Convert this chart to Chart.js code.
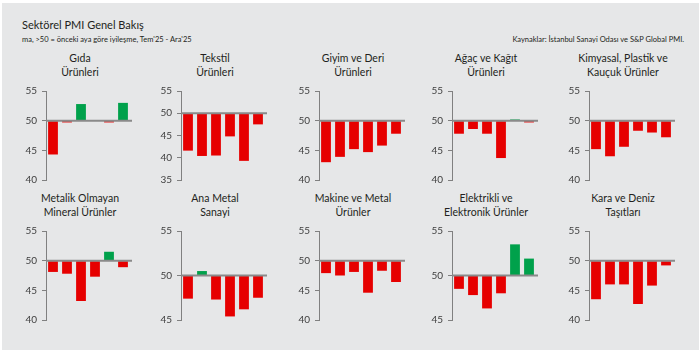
<!DOCTYPE html>
<html>
<head>
<meta charset="utf-8">
<script src="https://cdn.jsdelivr.net/npm/chart.js@4"></script>
<style>
  body { margin: 0; background: #fff; width: 699px; height: 353px; overflow: hidden; }
  #frame { position: absolute; left: 2px; top: 3px; width: 697px; height: 347px; background: #e6e7e8; }
  .txt { position: absolute; font-family: Lato, sans-serif; color: #231f20; white-space: nowrap; }
  .ptitle { font-size: 10.5px; line-height: 13.5px; text-align: center; width: 140px; }
  canvas { position: absolute; }
</style>
</head>
<body>
<div id="frame"></div>
<div class="txt" style="left:22px; top:18px; font-size:11px;">Sektörel PMI Genel Bakış</div>
<div class="txt" style="left:22px; top:35px; font-size:7.5px;">ma, &gt;50 = önceki aya göre iyileşme, Tem'25 - Ara'25</div>
<div class="txt" style="right:15px; top:35px; font-size:7.5px;">Kaynaklar: İstanbul Sanayi Odası ve S&amp;P Global PMI.</div>

<script>
// months Tem'25 - Ara'25
const months = ["Tem'25", "Ağu'25", "Eyl'25", "Eki'25", "Kas'25", "Ara'25"];

// PMI values
const gida = [44.3, 49.7, 52.8, 50.1, 49.7, 53.0];
const tekstil = [41.6, 40.4, 40.5, 44.8, 39.3, 47.5];
const giyim = [43.0, 43.9, 45.2, 44.7, 45.8, 47.8];
const agac = [47.8, 48.6, 47.8, 43.7, 50.2, 49.7];
const kimya = [45.2, 44.0, 45.6, 48.3, 48.0, 47.2];
const metalikOlmayan = [48.1, 47.8, 43.2, 47.3, 51.5, 48.9];
const anaMetal = [47.4, 50.5, 47.3, 45.4, 46.2, 47.5];
const makine = [47.9, 47.5, 48.1, 44.6, 48.3, 46.4];
const elektrik = [48.5, 47.8, 46.3, 48.0, 53.5, 51.9];
const kara = [43.5, 46.0, 46.0, 42.7, 45.8, 49.2];

const titles = [
    ['Gıda', 'Ürünleri'], ['Tekstil', 'Ürünleri'], ['Giyim ve Deri', 'Ürünleri'],
    ['Ağaç ve Kağıt', 'Ürünleri'], ['Kimyasal, Plastik ve', 'Kauçuk Ürünler'],
    ['Metalik Olmayan', 'Mineral Ürünler'], ['Ana Metal', 'Sanayi'], ['Makine ve Metal', 'Ürünler'],
    ['Elektrikli ve', 'Elektronik Ürünler'], ['Kara ve Deniz', 'Taşıtları']
];
const series = [gida, tekstil, giyim, agac, kimya, metalikOlmayan, anaMetal, makine, elektrik, kara];
const yMin = [40, 35, 40, 40, 40, 40, 45, 40, 45, 40];
const yMax = 55;

const RED = '#e60000';
const GREEN = '#00a14b';

// layout of the grid
const axisX = [46, 181, 319, 452, 589];
const plotTop = [88, 228];
const plotH = 95;
const plotW = 84;

// line at 50 drawn over the bars
const baseline = {
    id: 'baseline',
    afterDatasetsDraw(chart) {
        const y = chart.scales.y.getPixelForValue(50);
        const ctx = chart.ctx;
        ctx.save();
        ctx.strokeStyle = '#8a8a8a';
        ctx.lineWidth = 2;
        ctx.beginPath();
        ctx.moveTo(chart.chartArea.left, y);
        ctx.lineTo(chart.chartArea.right + 2, y);
        ctx.stroke();
        ctx.restore();
    }
};

series.forEach((vals, i) => {
    const col = i % 5, row = Math.floor(i / 5);
    const left = axisX[col] - 40;
    const top = plotTop[row] - 8;

    const t = document.createElement('div');
    t.className = 'txt ptitle';
    t.style.left = (axisX[col] + 34 - 70) + 'px';
    t.style.top = (plotTop[row] - 36) + 'px';
    t.innerHTML = titles[i].join('<br>');
    document.body.appendChild(t);

    const cv = document.createElement('canvas');
    cv.width = 40 + plotW + 6;
    cv.height = plotH + 16;
    cv.style.left = left + 'px';
    cv.style.top = top + 'px';
    document.body.appendChild(cv);

    new Chart(cv.getContext('2d'), {
        type: 'bar',
        data: {
            labels: months,
            datasets: [{
                data: vals,
                base: 50,
                backgroundColor: vals.map(v => v >= 50 ? GREEN : RED),
                barPercentage: 0.7,
                categoryPercentage: 1.0
            }]
        },
        options: {
            responsive: false,
            animation: false,
            layout: { padding: { top: 8, bottom: 8, left: 0, right: 6 } },
            plugins: { legend: { display: false }, tooltip: { enabled: false } },
            scales: {
                x: { display: false },
                y: {
                    min: yMin[i],
                    max: yMax,
                    afterFit: s => { s.width = 40; },
                    ticks: {
                        stepSize: 5,
                        padding: 5,
                        color: '#404040',
                        font: { family: 'Lato', size: 10 }
                    },
                    grid: {
                        drawOnChartArea: false,
                        drawTicks: true,
                        tickLength: 4,
                        color: '#808080'
                    },
                    border: { display: true, color: '#808080', width: 1 }
                }
            }
        },
        plugins: [baseline]
    });
});
</script>
</body>
</html>
